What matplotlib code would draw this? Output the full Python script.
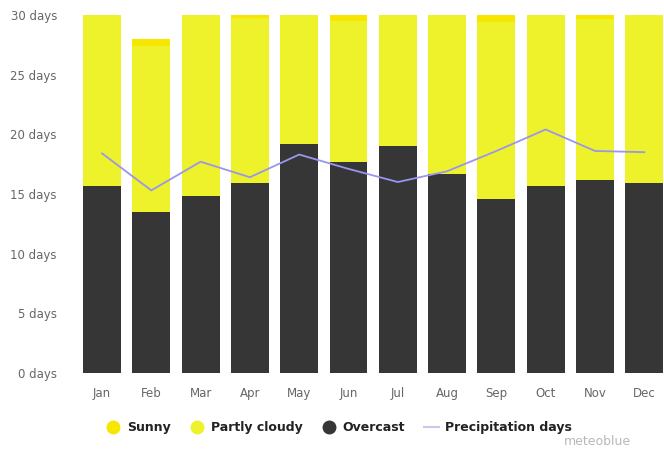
import numpy as np
import matplotlib.pyplot as plt
from matplotlib.lines import Line2D

months = ["Jan", "Feb", "Mar", "Apr", "May", "Jun", "Jul", "Aug", "Sep", "Oct", "Nov", "Dec"]
overcast = [15.7, 13.5, 14.8, 15.9, 19.2, 17.7, 19.0, 16.7, 14.6, 15.7, 16.2, 15.9]
sunny = [0.3, 0.6, 0.3, 0.3, 0.2, 0.5, 0.2, 0.2, 0.6, 0.3, 0.35, 0.2]
days_in_month = [31, 28, 31, 30, 31, 30, 31, 31, 30, 31, 30, 31]
partly = [d - o - s for d, o, s in zip(days_in_month, overcast, sunny)]
precip_days = [18.4, 15.3, 17.7, 16.4, 18.3, 17.1, 16.0, 16.9, 18.6, 20.4, 18.6, 18.5]

c_overcast = "#363636"
c_partly = "#eef22a"
c_sunny = "#f7e600"
c_precip = "#9a95ee"

fig = plt.figure(figsize=(6.64, 4.5), dpi=100)
ax = fig.add_axes([0.115, 0.171, 0.885, 0.796])

x = np.arange(len(months))
w = 0.77
ax.bar(x, overcast, w, color=c_overcast, zorder=2)
ax.bar(x, partly, w, bottom=overcast, color=c_partly, zorder=2)
ax.bar(x, sunny, w, bottom=np.add(overcast, partly), color=c_sunny, zorder=2)
ax.plot(x, precip_days, color=c_precip, lw=1.3, zorder=3)

ax.set_ylim(0, 30)
ax.set_xlim(-0.52, 11.4)
ax.set_yticks(range(0, 31, 5))
ax.set_yticklabels([f"{v} days" for v in range(0, 31, 5)])
ax.set_xticks(x)
ax.set_xticklabels(months)
ax.tick_params(length=0, colors="#666666", labelsize=8.5)
ax.tick_params(axis="x", pad=10)
ax.tick_params(axis="y", pad=14)
for s in ax.spines.values():
    s.set_visible(False)

handles = [
    Line2D([], [], marker="o", ls="", color=c_sunny, markersize=9),
    Line2D([], [], marker="o", ls="", color=c_partly, markersize=9),
    Line2D([], [], marker="o", ls="", color=c_overcast, markersize=9),
    Line2D([], [], color="#c8c8ee", lw=1.5),
]
leg = fig.legend(handles, ["Sunny", "Partly cloudy", "Overcast", "Precipitation days"],
                 loc="center", bbox_to_anchor=(0.51, 0.05), ncol=4, frameon=False,
                 prop={"weight": "bold", "size": 9}, handlelength=1.2,
                 columnspacing=1.5, handletextpad=0.5)
for t in leg.get_texts():
    t.set_color("#222222")

fig.text(0.9, 0.012, "meteoblue", color="#b8b8b8", fontsize=9, ha="center")

fig.savefig("out.png", dpi=100)
